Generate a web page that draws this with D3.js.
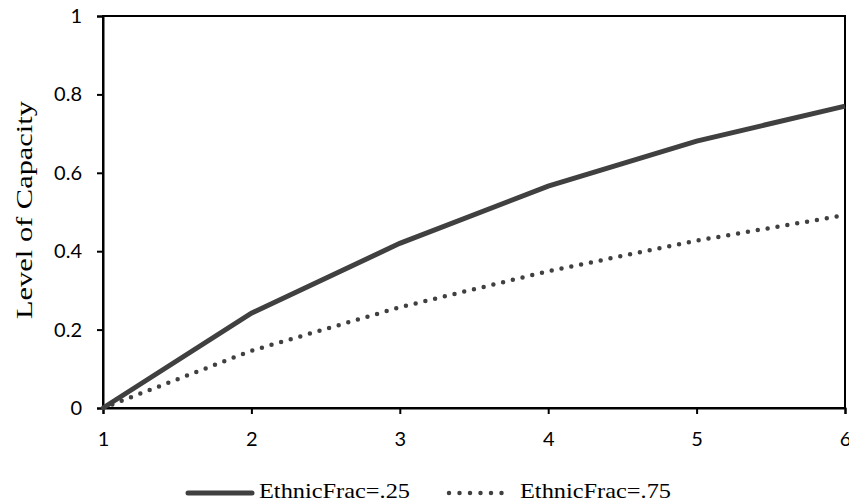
<!DOCTYPE html>
<html>
<head>
<meta charset="utf-8">
<script src="https://cdn.jsdelivr.net/npm/d3@7"></script>
<style>
body { margin: 0; background: #fff; overflow: hidden; }
</style>
</head>
<body>
<div id="chart"></div>
<script>
var xValues = [1, 2, 3, 4, 5, 6];
var lowFrac = [0, 0.242, 0.42, 0.566, 0.681, 0.770];
var highFrac = [0, 0.146, 0.257, 0.349, 0.427, 0.492];
var seriesNames = ["EthnicFrac=.25", "EthnicFrac=.75"];
var yTicks = [0, 0.2, 0.4, 0.6, 0.8, 1];

var width = 849, height = 503;
var margin = {top: 16, right: 4, bottom: 95, left: 103};

var svg = d3.select("#chart").append("svg")
    .attr("width", width).attr("height", height);

var x = d3.scaleLinear().domain([1, 6]).range([margin.left, width - margin.right]);
var y = d3.scaleLinear().domain([0, 1]).range([height - margin.bottom, margin.top]);

// box round the plot
svg.append("rect")
    .attr("x", x(1)).attr("y", y(1))
    .attr("width", x(6) - x(1)).attr("height", y(0) - y(1))
    .attr("fill", "none").attr("stroke", "#000").attr("stroke-width", 2);

var xAxis = svg.append("g")
    .attr("transform", "translate(0," + y(0) + ")")
    .call(d3.axisBottom(x).tickValues(xValues).tickSize(6).tickPadding(18).tickFormat(d3.format("d")));
var yAxis = svg.append("g")
    .attr("transform", "translate(" + x(1) + ",0)")
    .call(d3.axisLeft(y).tickValues(yTicks).tickSize(6).tickPadding(15).tickFormat(function(d) { return d === 0 || d === 1 ? d : d.toFixed(1); }));

[xAxis, yAxis].forEach(function(a) {
    a.attr("font-size", 20).attr("font-family", "Lato, 'Open Sans', sans-serif");
    a.select(".domain").attr("stroke", "#000").attr("stroke-width", 2);
    a.selectAll(".tick line").attr("stroke", "#000").attr("stroke-width", 2);
    a.selectAll(".tick text").attr("fill", "#000");
});

svg.append("text")
    .attr("transform", "translate(32,210) rotate(-90)")
    .attr("text-anchor", "middle")
    .attr("textLength", 218).attr("lengthAdjust", "spacingAndGlyphs")
    .style("font-family", "'Liberation Serif', serif").style("font-size", "23px")
    .text("Level of Capacity");

var line = d3.line()
    .x(function(d) { return x(d[0]); })
    .y(function(d) { return y(d[1]); });

svg.append("path")
    .datum(xValues.map(function(v, i) { return [v, lowFrac[i]]; }))
    .attr("d", line).attr("fill", "none")
    .attr("stroke", "#404040").attr("stroke-width", 5);

svg.append("path")
    .datum(xValues.map(function(v, i) { return [v, highFrac[i]]; }))
    .attr("d", line).attr("fill", "none")
    .attr("stroke", "#404040").attr("stroke-width", 4.5)
    .attr("stroke-linecap", "round").attr("stroke-dasharray", "0 10");

// legend
var legend = svg.append("g").attr("transform", "translate(0,493)");
legend.append("line").attr("x1", 188).attr("x2", 252)
    .attr("stroke", "#404040").attr("stroke-width", 5).attr("stroke-linecap", "round");
legend.append("line").attr("x1", 449).attr("x2", 512)
    .attr("stroke", "#404040").attr("stroke-width", 4.5)
    .attr("stroke-linecap", "round").attr("stroke-dasharray", "0 10.5");
legend.selectAll("text").data(seriesNames).enter().append("text")
    .attr("x", function(d, i) { return i === 0 ? 259 : 520; })
    .attr("y", 5)
    .attr("textLength", 151).attr("lengthAdjust", "spacingAndGlyphs")
    .style("font-family", "'Liberation Serif', serif").style("font-size", "21px")
    .text(function(d) { return d; });
</script>
</body>
</html>
